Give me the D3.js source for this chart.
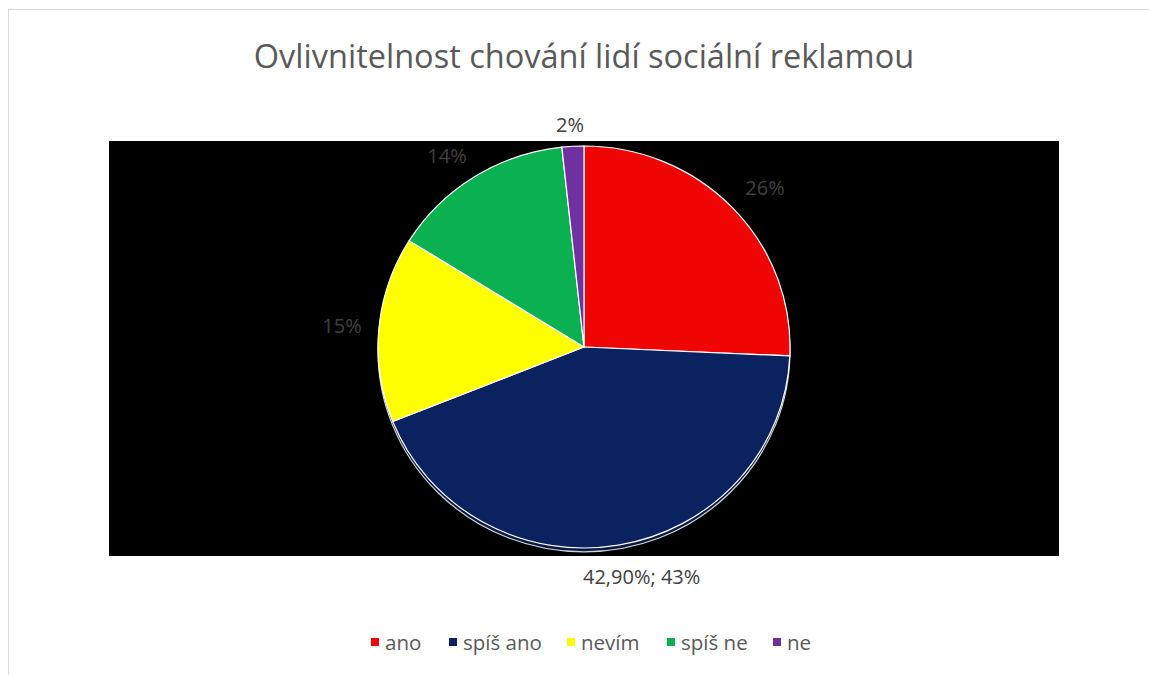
<!DOCTYPE html>
<html>
<head>
<meta charset="utf-8">
<script src="https://cdn.jsdelivr.net/npm/d3@7"></script>
<style>
  body { margin: 0; background: #fff; }
  text { font-family: "Open Sans", "Noto Sans", sans-serif; }
</style>
</head>
<body>
<div id="chart"></div>
<script>
// data
const categories = ["ano", "spíš ano", "nevím", "spíš ne", "ne"];
const values = [25.5, 42.9, 14.8, 14.3, 1.7];
const colors = ["#f00505", "#0b2260", "#ffff00", "#0bb050", "#7030a0"];
const labelTexts = ["26%", "42,90%; 43%", "15%", "14%", "2%"];

// dims
const width = 1149;
const height = 675;
const cx = 584, cy = 347, rx = 206, ry = 201;

const svg = d3.select("#chart")
    .append("svg")
    .attr("width", width)
    .attr("height", height);

// chart border
svg.append("rect")
    .attr("x", 8.5).attr("y", 9.5)
    .attr("width", 1160).attr("height", 680)
    .attr("fill", "#fff")
    .attr("stroke", "#d9d9d9");

// black plot area
svg.append("rect")
    .attr("x", 109).attr("y", 141)
    .attr("width", 950).attr("height", 415)
    .attr("fill", "#000");

// title
svg.append("text")
    .attr("x", 584).attr("y", 68)
    .attr("text-anchor", "middle")
    .attr("font-size", 32.5)
    .attr("fill", "#595959")
    .text("Ovlivnitelnost chování lidí sociální reklamou");

const pie = d3.pie().sort(null).value(d => d);
const arcs = pie(values);
const arc = d3.arc().innerRadius(0).outerRadius(rx);

// slightly tilted pie
const g = svg.append("g")
    .attr("transform", `translate(${cx},${cy}) scale(1,${ry / rx})`);

// shadow under the pie (3D look)
g.append("circle")
    .attr("cx", 0).attr("cy", 4)
    .attr("r", rx)
    .attr("fill", "#0b1a40")
    .attr("stroke", "#cfd3dc")
    .attr("stroke-width", 1.2)
    .attr("vector-effect", "non-scaling-stroke");

// slices
g.selectAll("path.slice")
    .data(arcs)
    .enter()
    .append("path")
    .attr("class", "slice")
    .attr("d", arc)
    .attr("fill", (d, i) => colors[i])
    .attr("stroke", "#fff")
    .attr("stroke-width", 1.2)
    .attr("vector-effect", "non-scaling-stroke");

// data labels
const labelPos = [
    [765, 195, "middle"],
    [583, 584, "start"],
    [342, 333, "middle"],
    [447, 163, "middle"],
    [570, 132, "middle"]
];
svg.selectAll("text.lbl")
    .data(arcs)
    .enter()
    .append("text")
    .attr("class", "lbl")
    .attr("x", (d, i) => labelPos[i][0])
    .attr("y", (d, i) => labelPos[i][1])
    .attr("text-anchor", (d, i) => labelPos[i][2])
    .attr("font-size", 20)
    .attr("fill", "#404040")
    .text((d, i) => labelTexts[i]);

// legend
const legendX = [371, 449, 567, 667, 773];
const legend = svg.selectAll("g.leg")
    .data(categories)
    .enter()
    .append("g")
    .attr("class", "leg")
    .attr("transform", (d, i) => `translate(${legendX[i]},643)`);
legend.append("rect")
    .attr("x", 0).attr("y", -5)
    .attr("width", 8).attr("height", 8)
    .attr("fill", (d, i) => colors[i]);
legend.append("text")
    .attr("x", 14).attr("y", 7)
    .attr("font-size", 20.5)
    .attr("fill", "#595959")
    .text(d => d);
</script>
</body>
</html>
